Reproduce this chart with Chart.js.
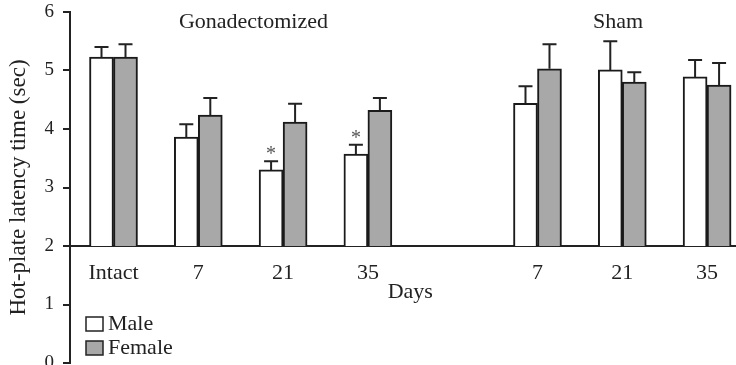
<!DOCTYPE html>
<html><head><meta charset="utf-8">
<script src="https://cdn.jsdelivr.net/npm/chart.js@4"></script>
<style>html,body{margin:0;padding:0;background:#fff}#wrap{width:736px;height:365px}</style>
</head><body><div id="wrap"><canvas id="c" width="736" height="365"></canvas></div>
<script>
const categories = ['Intact','7','21','35','','7','21','35'];
const maleMeans   = [5.23, 3.86, 3.30, 3.57, null, 4.44, 5.01, 4.89];
const maleErr     = [0.17, 0.22, 0.15, 0.16, null, 0.29, 0.49, 0.29];
const femaleMeans = [5.23, 4.24, 4.12, 4.32, null, 5.03, 4.80, 4.75];
const femaleErr   = [0.22, 0.29, 0.31, 0.21, null, 0.42, 0.17, 0.38];
const maleSignificant = [false, false, true, true, false, false, false, false];
const yTicks = [0, 1, 2, 3, 4, 5, 6];
const baseline = 2;
const groupLabels = [{text: 'Gonadectomized', at: 1.65}, {text: 'Sham', at: 5.95}];
const xTitle = 'Days';
const yTitle = 'Hot-plate latency time (sec)';

const SERIF = '"Liberation Serif", "DejaVu Serif", serif';
const INK = '#222';

function buildData(means, errs) {
  const out = [];
  means.forEach((v, i) => { if (v != null) out.push({x: i, y: [baseline, v], err: errs[i], idx: i}); });
  return out;
}

const overlay = {
  id: 'overlay',
  afterDatasetsDraw(chart) {
    const ctx = chart.ctx, ys = chart.scales.y, xs = chart.scales.x;
    ctx.save();
    chart.data.datasets.forEach((ds, d) => {
      const meta = chart.getDatasetMeta(d);
      meta.data.forEach((el, j) => {
        const pt = ds.data[j];
        const top = pt.y[1];
        const yTop = ys.getPixelForValue(top);
        const yCap = ys.getPixelForValue(top + pt.err);
        ctx.strokeStyle = INK; ctx.lineWidth = 2;
        ctx.beginPath();
        ctx.moveTo(el.x, yTop); ctx.lineTo(el.x, yCap);
        ctx.moveTo(el.x - 7, yCap); ctx.lineTo(el.x + 7, yCap);
        ctx.stroke();
        if (d === 0 && maleSignificant[pt.idx]) {
          ctx.fillStyle = '#555';
          ctx.font = '20px ' + SERIF;
          ctx.textAlign = 'center'; ctx.textBaseline = 'alphabetic';
          ctx.fillText('*', el.x, yCap - 1);
        }
      });
    });
    ctx.fillStyle = INK;
    ctx.font = '22px ' + SERIF;
    ctx.textAlign = 'center'; ctx.textBaseline = 'alphabetic';
    groupLabels.forEach(g => ctx.fillText(g.text, xs.getPixelForValue(g.at), chart.chartArea.top + 16));
    ctx.fillText(xTitle, xs.getPixelForValue(3.5), ys.getPixelForValue(baseline) + 52);
    const lx = chart.chartArea.left + 16;
    const items = [
      {ds: chart.data.datasets[0], y: 317},
      {ds: chart.data.datasets[1], y: 341}
    ];
    items.forEach(it => {
      ctx.fillStyle = it.ds.backgroundColor;
      ctx.fillRect(lx, it.y, 17, 14);
      ctx.strokeStyle = INK; ctx.lineWidth = 1.5;
      ctx.strokeRect(lx, it.y, 17, 14);
      ctx.fillStyle = INK;
      ctx.textAlign = 'left';
      ctx.fillText(it.ds.label, lx + 22, it.y + 13);
    });
    ctx.restore();
  }
};

new Chart(document.getElementById('c'), {
  type: 'bar',
  data: {
    datasets: [
      {label: 'Male', data: buildData(maleMeans, maleErr), backgroundColor: '#ffffff', borderColor: '#1a1a1a', borderWidth: 2, borderSkipped: 'start', barThickness: 24},
      {label: 'Female', data: buildData(femaleMeans, femaleErr), backgroundColor: '#a8a8a8', borderColor: '#1a1a1a', borderWidth: 2, borderSkipped: 'start', barThickness: 24}
    ]
  },
  options: {
    responsive: false,
    devicePixelRatio: 1,
    animation: false,
    layout: {padding: {top: 12, bottom: 2, left: 0, right: 0}},
    plugins: {legend: {display: false}, tooltip: {enabled: false}},
    scales: {
      x: {
        type: 'linear',
        position: {y: baseline},
        offset: false,
        min: -0.513, max: 7.341,
        afterBuildTicks(scale) { scale.ticks = categories.map((c, i) => ({value: i})); },
        afterFit(scale) { scale.paddingLeft = 0; scale.paddingRight = 0; },
        ticks: {
          autoSkip: false, maxRotation: 0, padding: 6, color: INK,
          font: {family: SERIF, size: 22},
          callback: (v) => categories[v] ?? ''
        },
        grid: {display: false, offset: false},
        border: {display: true, color: INK, width: 2}
      },
      y: {
        type: 'linear',
        position: 'left',
        min: 0, max: 6,
        afterBuildTicks(scale) { scale.ticks = yTicks.map(v => ({value: v})); },
        afterFit(scale) { scale.width = 70; scale.paddingTop = 0; scale.paddingBottom = 0; },
        ticks: {padding: 9, color: INK, font: {family: SERIF, size: 19}},
        grid: {drawOnChartArea: false, drawTicks: true, tickLength: 7, color: INK, lineWidth: 2},
        border: {display: true, color: INK, width: 2},
        title: {display: true, text: yTitle, color: INK, font: {family: SERIF, size: 23}, padding: {top: 5, bottom: 0}}
      }
    }
  },
  plugins: [overlay]
});
</script></body></html>
